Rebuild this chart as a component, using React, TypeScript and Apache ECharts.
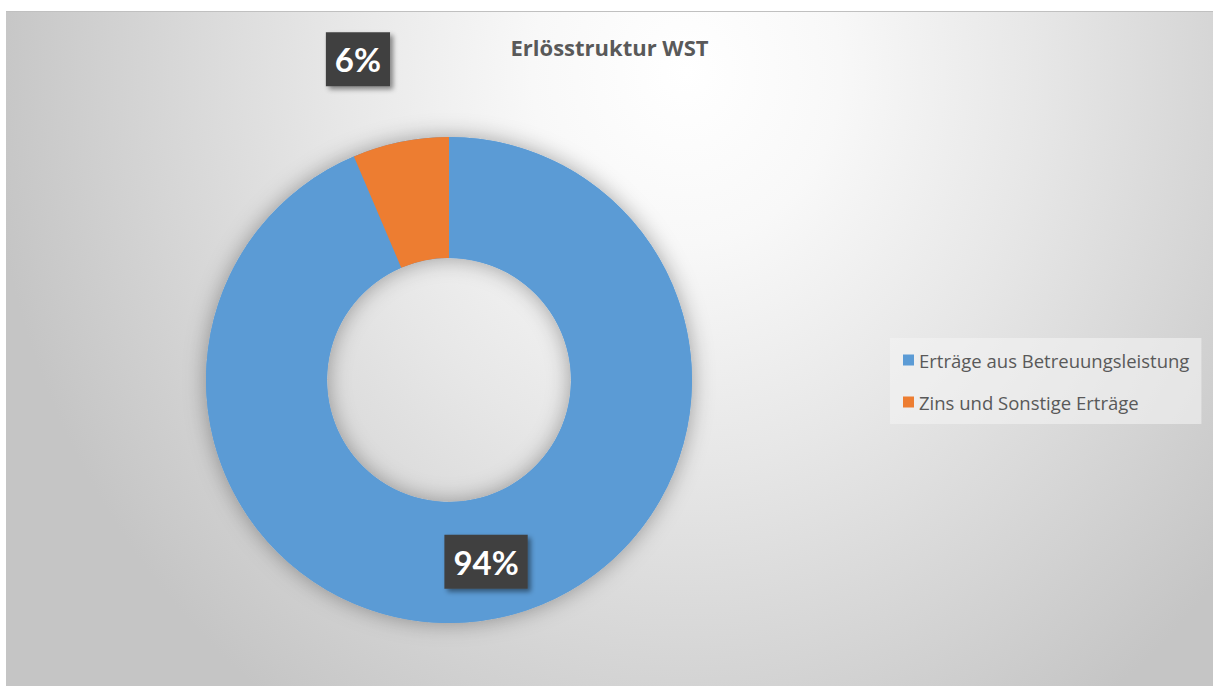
import React, { useEffect, useRef } from "react";
import * as echarts from "echarts";

const chartTitle = "Erlösstruktur WST";
const categories = ["Erträge aus Betreuungsleistung", "Zins und Sonstige Erträge"];
const shares = [93.6, 6.4];
const colors = ["#5B9BD5", "#ED7D31"];

export default function App() {
  const ref = useRef<HTMLDivElement>(null);

  useEffect(() => {
    if (!ref.current) return;
    const chart = echarts.init(ref.current, null, { renderer: "svg" });
    const font = "'Open Sans', Lato, sans-serif";
    const labelFont = "Lato, 'Open Sans', sans-serif";
    const labelStyle = {
      show: true,
      position: "inside",
      color: "#ffffff",
      fontFamily: labelFont,
      fontWeight: "bold",
      fontSize: 33,
      lineHeight: 38,
      backgroundColor: "#404040",
      padding: [8, 9, 8, 9],
      shadowColor: "rgba(0,0,0,0.45)",
      shadowBlur: 5,
      shadowOffsetX: 3,
      shadowOffsetY: 3,
      formatter: (p: any) => Math.round(p.percent) + "%",
    };
    const total = shares.reduce((a, b) => a + b, 0);
    chart.setOption({
      animation: false,
      title: {
        text: chartTitle,
        left: "center",
        top: 19,
        textStyle: { fontFamily: font, fontWeight: "bold", fontSize: 22, color: "#595959" },
      },
      legend: {
        data: categories,
        orient: "vertical",
        left: 884,
        top: 326,
        padding: [12, 12, 12, 13],
        itemGap: 22,
        itemWidth: 11,
        itemHeight: 11,
        icon: "rect",
        backgroundColor: "rgba(243,243,243,0.6)",
        textStyle: { fontFamily: font, fontSize: 18.5, lineHeight: 20, color: "#595959" },
        selectedMode: false,
      },
      series: [
        {
          type: "pie",
          silent: true,
          z: 1,
          center: [443, 368],
          radius: [122, 243],
          label: { show: false },
          labelLine: { show: false },
          itemStyle: {
            color: colors[0],
            shadowBlur: 22,
            shadowColor: "rgba(0,0,0,0.35)",
          },
          data: [{ name: "shadow", value: total }],
        },
        {
          type: "pie",
          z: 2,
          center: [443, 368],
          radius: [122, 243],
          startAngle: 90,
          clockwise: true,
          avoidLabelOverlap: false,
          emphasis: { disabled: true },
          labelLine: { show: false },
          label: labelStyle,
          data: categories.map((name, i) => ({
            name,
            value: shares[i],
            itemStyle: { color: colors[i] },
            label: i === 1 ? { ...labelStyle, offset: [-54, -139] } : labelStyle,
          })),
        },
      ],
    });
    return () => chart.dispose();
  }, []);

  return (
    <div
      ref={ref}
      style={{
        position: "absolute",
        left: 6,
        top: 11,
        width: 1207,
        height: 675,
        boxSizing: "border-box",
        borderTop: "1px solid #c0c0c0",
        background:
          "radial-gradient(ellipse 700px 780px at 680px 60px, #ffffff 0%, #f8f8f8 22%, #e7e7e7 50%, #d4d4d4 78%, #c5c5c5 100%)",
      }}
    />
  );
}
